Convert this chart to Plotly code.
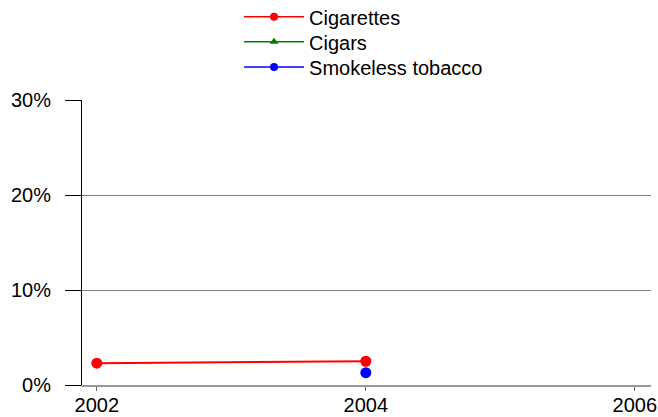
import plotly.graph_objects as go

years = [2002, 2004]
cigarettes = [2.3, 2.5]
cigars = [None, None]
smokeless = [None, 1.3]

y_ticks = [0, 10, 20, 30]
y_labels = ["0%", "10%", "20%", "30%"]
x_ticks = [2002, 2004, 2006]

series = [
    ("Cigarettes", cigarettes, "red", "circle", "legend"),
    ("Cigars", cigars, "green", "triangle-up", "legend2"),
    ("Smokeless tobacco", smokeless, "blue", "circle", "legend3"),
]

fig = go.Figure()
for name, vals, color, sym, leg in series:
    # data marks
    fig.add_trace(go.Scatter(x=years, y=vals, name=name, mode="lines+markers", showlegend=False,
                             line=dict(color=color, width=2),
                             marker=dict(color=color, size=11, symbol=sym)))
    # legend entry with smaller markers
    fig.add_trace(go.Scatter(x=[None], y=[None], name=name, mode="lines+markers", legend=leg,
                             line=dict(color=color, width=1.5),
                             marker=dict(color=color, size=8, symbol=sym)))

leg_style = dict(x=0.276, xanchor="left", yanchor="middle", itemwidth=60,
                 font=dict(size=20), bgcolor="rgba(0,0,0,0)")

fig.update_layout(
    width=658, height=417,
    margin=dict(l=82, r=7, t=100, b=32, autoexpand=False),
    plot_bgcolor="white", paper_bgcolor="white",
    font=dict(family="Liberation Sans, Arial, sans-serif", size=20, color="black"),
    legend=dict(y=1.292, **leg_style),
    legend2=dict(y=1.204, **leg_style),
    legend3=dict(y=1.116, **leg_style),
)
fig.update_xaxes(range=[2001.89, 2006.12], tickvals=x_ticks, showgrid=False, automargin=False,
                 showline=True, linecolor="#999999", linewidth=2, ticks="outside",
                 ticklen=4, tickcolor="#666666", zeroline=False, ticklabelstandoff=-3)
fig.update_yaxes(range=[0, 30], tickvals=y_ticks, ticktext=y_labels, showgrid=True, automargin=False,
                 gridcolor="#808080", gridwidth=1, showline=True, linecolor="black", linewidth=1,
                 ticks="outside", ticklen=16, tickcolor="black", zeroline=False,
                 ticklabelstandoff=10)

# drop the browser's default page margin so the figure sits at the top-left corner
fig.write_html("out.html", config={"displayModeBar": False},
               post_script="document.body.style.margin='0';")
